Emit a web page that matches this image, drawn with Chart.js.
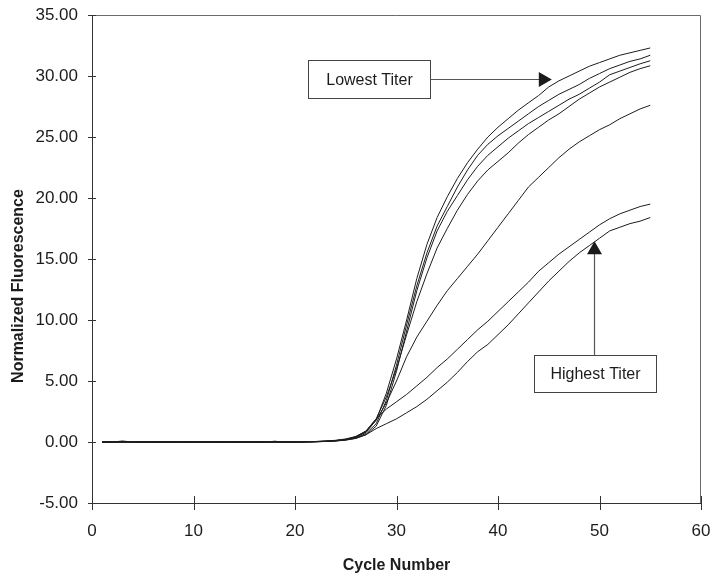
<!DOCTYPE html>
<html>
<head>
<meta charset="utf-8">
<script src="https://cdn.jsdelivr.net/npm/chart.js@4.4.1/dist/chart.umd.min.js"></script>
<style>
  html, body { margin: 0; padding: 0; background: #fff; }
  #wrap { width: 712px; height: 578px; }
</style>
</head>
<body>
<div id="wrap"><canvas id="chart" width="712" height="578"></canvas></div>
<script>
// qPCR amplification curves, normalized fluorescence per cycle

const cycles = [1,2,3,4,5,6,7,8,9,10,11,12,13,14,15,16,17,18,19,20,
  21,22,23,24,25,26,27,28,29,30,31,32,33,34,35,36,37,38,39,40,
  41,42,43,44,45,46,47,48,49,50,51,52,53,54,55]

const curveA = [0,0,0.08,0,0,0,0,0,0,0,0,0,0,0,0,0,0,0.06,0,0,
  0.02,0.04,0.07,0.12,0.22,0.4,0.8,1.8,4.0,6.8,10.0,13.4,16.2,18.4,20.1,21.6,22.9,24.0,25.0,25.8,
  26.5,27.2,27.8,28.4,29.1,29.6,30.0,30.4,30.8,31.1,31.4,31.7,31.9,32.1,32.3]
const curveB = [0,0,0.05,0,0,0,0,0,0,0,0,0,0,0,0,0,0,0.05,0,0,
  0.01,0.03,0.06,0.1,0.2,0.35,0.7,1.5,3.4,6.3,9.6,12.8,15.5,17.7,19.3,20.9,22.3,23.5,24.4,25.1,
  25.7,26.3,26.9,27.5,28.0,28.5,28.9,29.3,29.8,30.2,30.6,30.9,31.2,31.4,31.7]
const curveC = [0,0,0,0,0,0,0,0,0,0,0,0,0,0,0,0,0,0,0,0,
  0.01,0.02,0.05,0.09,0.17,0.3,0.6,1.3,3.0,5.8,9.1,12.4,15.1,17.3,18.9,20.2,21.5,22.6,23.5,24.2,
  24.9,25.5,26.1,26.6,27.1,27.6,28.1,28.5,29.0,29.5,30.1,30.4,30.7,31.0,31.25]
const curveD = [0,0,0,0,0,0,0,0,0,0,0,0,0,0,0,0,0,0,0,0,
  0.02,0.04,0.08,0.14,0.25,0.45,0.9,1.9,3.7,6.0,8.8,11.5,13.8,15.9,17.5,19.0,20.3,21.4,22.3,23.0,
  23.7,24.5,25.2,25.8,26.4,26.9,27.5,28.1,28.6,29.1,29.5,29.9,30.3,30.6,30.84]
const curveE = [0,0,0,0,0,0,0,0,0,0,0,0,0,0,0,0,0,0,0,0,
  0.01,0.03,0.06,0.11,0.2,0.4,0.85,1.8,3.2,5.0,7.0,8.6,9.9,11.2,12.4,13.4,14.4,15.4,16.5,17.6,
  18.7,19.8,20.9,21.7,22.5,23.3,24.0,24.6,25.1,25.6,26.0,26.5,26.9,27.3,27.6]
const curveF = [0,0,0,0,0,0,0,0,0,0,0,0,0,0,0,0,0,0,0,0,
  0.01,0.02,0.05,0.1,0.2,0.45,0.9,1.9,2.7,3.3,3.9,4.6,5.3,6.1,6.8,7.6,8.4,9.2,9.9,10.7,
  11.5,12.3,13.1,14.0,14.7,15.4,16.0,16.6,17.2,17.8,18.3,18.7,19.0,19.3,19.5]
const curveG = [0,0,0,0,0,0,0,0,0,0,0,0,0,0,0,0,0,0,0,0,
  0.01,0.02,0.04,0.08,0.15,0.3,0.6,1.1,1.5,1.9,2.4,2.9,3.5,4.2,4.9,5.7,6.6,7.4,8.0,8.8,
  9.6,10.5,11.4,12.3,13.2,14.0,14.8,15.5,16.1,16.7,17.3,17.6,17.9,18.1,18.4]

const xTicks = [0, 10, 20, 30, 40, 50, 60]
const yTicks = [-5, 0, 5, 10, 15, 20, 25, 30, 35]

const xTitle = 'Cycle Number'
const yTitle = 'Normalized Fluorescence'

// callouts, placed in data units
const lowest = { text: 'Lowest Titer', x0: 21.3, x1: 33.3, yTop: 31.3, yBot: 28.2, arrowY: 29.75, tipX: 45.3 }
const highest = { text: 'Highest Titer', x0: 43.5, x1: 55.6, yTop: 7.15, yBot: 4.08, arrowX: 49.5, tipY: 16.46 }

// the original uses a condensed face; use Liberation Sans Narrow when it is there
function hasFont(name) {
  const c = document.createElement('canvas').getContext('2d')
  const s = 'Normalized 0123456789'
  c.font = '40px monospace'
  const a = c.measureText(s).width
  c.font = '40px "' + name + '", monospace'
  return c.measureText(s).width !== a
}
const NARROW = hasFont('Liberation Sans Narrow')
const FONT = NARROW
  ? '"Liberation Sans Narrow", "Liberation Sans", Arial, sans-serif'
  : '"Liberation Sans", Arial, sans-serif'
const TICK_PX = NARROW ? 19 : 17
const TITLE_PX = NARROW ? 19 : 16
const NOTE_PX = NARROW ? 19 : 16
const INK = '#1c1c1c'

const series = [curveA, curveB, curveC, curveD, curveE, curveF, curveG]
const datasets = series.map((vals, i) => ({
  label: 'curve ' + (i + 1),
  data: cycles.map((c, j) => ({ x: c, y: vals[j] })),
  borderColor: INK,
  borderWidth: 1,
  pointRadius: 0,
  tension: 0,
  fill: false,
}))

function arrowHead(ctx, tx, ty, dx, dy) {
  // dx,dy = unit direction of travel
  const len = 13, half = 7.5
  const bx = tx - dx * len, by = ty - dy * len
  ctx.beginPath()
  ctx.moveTo(tx, ty)
  ctx.lineTo(bx - dy * half, by + dx * half)
  ctx.lineTo(bx + dy * half, by - dx * half)
  ctx.closePath()
  ctx.fill()
}

function calloutBox(ctx, x, y, c) {
  const l = Math.round(x.getPixelForValue(c.x0)) + 0.5
  const r = Math.round(x.getPixelForValue(c.x1)) + 0.5
  const t = Math.round(y.getPixelForValue(c.yTop)) + 0.5
  const b = Math.round(y.getPixelForValue(c.yBot)) + 0.5
  ctx.fillStyle = '#fff'
  ctx.fillRect(l, t, r - l, b - t)
  ctx.strokeStyle = '#444'
  ctx.lineWidth = 1
  ctx.strokeRect(l, t, r - l, b - t)
  ctx.fillStyle = INK
  ctx.font = NOTE_PX + 'px ' + FONT
  ctx.textAlign = 'center'
  ctx.textBaseline = 'middle'
  ctx.fillText(c.text, (l + r) / 2, (t + b) / 2 + 1)
  return { l, r, t, b }
}

// no automatic label padding: the layout padding alone fixes the plot box
function noPad(s) {
  s.paddingLeft = 0; s.paddingRight = 0; s.paddingTop = 0; s.paddingBottom = 0
}

const extras = {
  id: 'extras',
  beforeDatasetsDraw(chart) {
    const { ctx, chartArea: a, scales: { x, y } } = chart
    ctx.save()
    // top and right of the plot box
    ctx.strokeStyle = '#6a6a6a'
    ctx.lineWidth = 1
    ctx.beginPath()
    ctx.moveTo(a.left, a.top + 0.5)
    ctx.lineTo(a.right - 0.5, a.top + 0.5)
    ctx.lineTo(a.right - 0.5, a.bottom)
    ctx.stroke()
    // tick marks crossing the axes
    ctx.strokeStyle = '#333'
    ctx.beginPath()
    yTicks.forEach(v => {
      const py = Math.round(y.getPixelForValue(v)) + 0.5
      ctx.moveTo(a.left - 4, py)
      ctx.lineTo(a.left + 4, py)
    })
    xTicks.forEach(v => {
      const px = Math.round(x.getPixelForValue(v)) + 0.5
      ctx.moveTo(px, a.bottom - 7)
      ctx.lineTo(px, a.bottom + 7)
    })
    ctx.stroke()
    ctx.restore()
  },
  afterDraw(chart) {
    const { ctx, scales: { x, y } } = chart
    ctx.save()

    // Lowest Titer: box with arrow to the right
    const lb = calloutBox(ctx, x, y, lowest)
    const ay = Math.round(y.getPixelForValue(lowest.arrowY)) + 0.5
    const tipX = x.getPixelForValue(lowest.tipX)
    ctx.strokeStyle = '#555'
    ctx.lineWidth = 1.2
    ctx.beginPath()
    ctx.moveTo(lb.r, ay)
    ctx.lineTo(tipX - 10, ay)
    ctx.stroke()
    ctx.fillStyle = '#1a1a1a'
    arrowHead(ctx, tipX, ay, 1, 0)

    // Highest Titer: box with arrow pointing up
    const hb = calloutBox(ctx, x, y, highest)
    const ax = Math.round(x.getPixelForValue(highest.arrowX)) + 0.5
    const tipY = y.getPixelForValue(highest.tipY)
    ctx.strokeStyle = '#555'
    ctx.lineWidth = 1.2
    ctx.beginPath()
    ctx.moveTo(ax, hb.t)
    ctx.lineTo(ax, tipY + 10)
    ctx.stroke()
    ctx.fillStyle = '#1a1a1a'
    arrowHead(ctx, ax, tipY, 0, -1)

    // y axis title, centred a little below the plot middle like the original
    ctx.translate(19, 286)
    ctx.rotate(-Math.PI / 2)
    ctx.font = 'bold ' + TITLE_PX + 'px ' + FONT
    ctx.fillStyle = INK
    ctx.textAlign = 'center'
    ctx.textBaseline = 'middle'
    ctx.fillText(yTitle, 0, 0)
    ctx.restore()
  }
}

new Chart(document.getElementById('chart'), {
  type: 'line',
  data: { datasets },
  plugins: [extras],
  options: {
    responsive: false,
    animation: false,
    layout: { padding: { left: 0, right: 11, top: 15, bottom: 0 } },
    plugins: {
      legend: { display: false },
      tooltip: { enabled: false },
    },
    scales: {
      x: {
        type: 'linear',
        min: 0,
        max: 60,
        afterBuildTicks: s => { s.ticks = xTicks.map(v => ({ value: v })) },
        afterFit: s => { s.height = 75; noPad(s) },
        grid: { display: true, drawOnChartArea: false, drawTicks: false },
        border: { display: true, color: '#333', width: 1 },
        ticks: {
          padding: 18,
          color: INK,
          font: { family: FONT, size: TICK_PX },
          maxRotation: 0,
        },
        title: {
          display: true,
          text: xTitle,
          color: INK,
          font: { family: FONT, size: TITLE_PX, weight: 'bold' },
          padding: { top: 0, bottom: 3 },
        },
      },
      y: {
        min: -5,
        max: 35,
        afterBuildTicks: s => { s.ticks = yTicks.map(v => ({ value: v })) },
        afterFit: s => { s.width = 92; noPad(s) },
        grid: { display: true, drawOnChartArea: false, drawTicks: false },
        border: { display: true, color: '#333', width: 1 },
        ticks: {
          padding: 14,
          color: INK,
          font: { family: FONT, size: TICK_PX },
          callback: v => v.toFixed(2),
        },
      },
    },
  },
})
</script>
</body>
</html>
